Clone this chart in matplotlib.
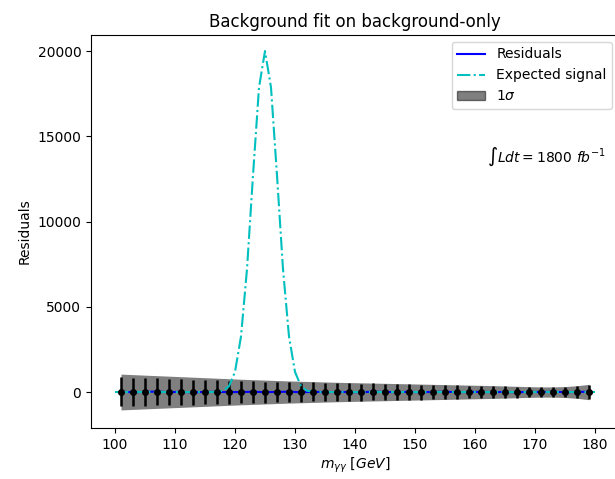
import numpy as np
import matplotlib
matplotlib.use('Agg')
from matplotlib import pyplot as plt
from matplotlib.patches import Patch

# bin centres of the residuals
mass = np.arange(101, 180, 2)
resid = [20, -15, 10, 25, -10, 15, -20, 5, 10, -5,
         0, 15, -10, 5, 20, -15, 10, -5, 5, 0,
         -10, 15, 5, -5, 10, -10, 5, 15, -5, 0,
         10, -5, 5, -10, 5, 0, 10, -5, 5, 15]
band = [1050, 1020, 990, 960, 930, 900, 870, 840, 810, 780,
        750, 725, 700, 675, 650, 630, 610, 590, 570, 555,
        540, 525, 510, 495, 480, 465, 450, 435, 420, 405,
        390, 375, 355, 335, 315, 300, 300, 320, 370, 450]
err = [850, 830, 810, 790, 770, 750, 730, 710, 690, 670,
       650, 630, 615, 600, 585, 570, 555, 540, 525, 510,
       500, 490, 475, 460, 450, 435, 420, 405, 390, 375,
       360, 345, 330, 315, 300, 290, 290, 300, 340, 400]

# expected signal, 1 GeV grid
m_sig = np.arange(100, 181)
signal = ([0] * 17 +
          [14, 77, 340, 1180, 3260, 7210, 12710, 17860, 20000,
           17860, 12710, 7210, 3260, 1180, 340, 77, 14] +
          [0] * 47)

fig = plt.figure(figsize=(6.15, 4.79), dpi=100)
# the right edge of the axes runs off the picture, as in the original
ax = fig.add_axes([91/615., 51/479., 540/615., 393/479.])

band = np.array(band)
ax.fill_between(mass, -band, band, color='k', alpha=0.5, lw=0)
ax.errorbar(mass, resid, yerr=err, fmt='o', color='k', ms=4, elinewidth=1.8)
l1, = ax.plot(mass, resid, 'b-', label='Residuals')
l2, = ax.plot(m_sig, signal, 'c-.', label='Expected signal')
p1 = Patch(facecolor='k', edgecolor='k', alpha=0.5, label=r'$1\sigma$')

ax.set_xlim(96, 96 + 540/6.)
ax.set_ylim(-2110, 20940)
ax.text(162, 13800, r'$\int Ldt = 1800\ fb^{-1}$', fontsize=10, va='center')
ax.set_title('Background fit on background-only', x=528/540./2)
ax.set_xlabel(r'$m_{\gamma\gamma}\ [GeV]$')
ax.xaxis.set_label_coords(264/540., -0.07)
ax.set_ylabel('Residuals')
ax.legend(handles=[l1, l2, p1], loc='upper right',
          bbox_to_anchor=(528/540., 1.0))

fig.savefig('out.png', dpi=100)
